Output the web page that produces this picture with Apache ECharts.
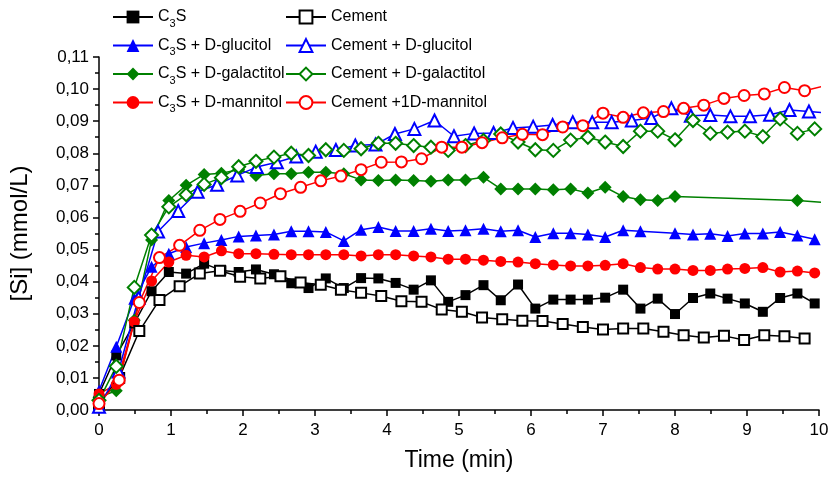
<!DOCTYPE html>
<html>
<head>
<meta charset="utf-8">
<script src="https://cdn.jsdelivr.net/npm/echarts@6/dist/echarts.min.js"></script>
<style>html,body{margin:0;padding:0;background:#fff}</style>
</head>
<body>
<div id="chart" style="width:831px;height:477px;"></div>
<script>
  // sampling times (min)
  var tC3S = [0, 0.24, 0.49, 0.73, 0.97, 1.21, 1.46, 1.70, 1.94, 2.18, 2.43, 2.67, 2.91, 3.15, 3.40, 3.64, 3.88, 4.12, 4.37, 4.61,
    4.85, 5.09, 5.34, 5.58, 5.82, 6.06, 6.31, 6.55, 6.79, 7.03, 7.28, 7.52, 7.76, 8.00, 8.25, 8.49, 8.73, 8.97, 9.22, 9.46, 9.70, 9.94, 10.19];
  var tCement = [0, 0.28, 0.56, 0.84, 1.12, 1.40, 1.68, 1.96, 2.24, 2.52, 2.80, 3.08, 3.36, 3.64, 3.92, 4.20, 4.48, 4.76, 5.04, 5.32,
    5.60, 5.88, 6.16, 6.44, 6.72, 7.00, 7.28, 7.56, 7.84, 8.12, 8.40, 8.68, 8.96, 9.24, 9.52, 9.80, 10.08];
  var tCemGlucitol = [0, 0.27, 0.55, 0.82, 1.10, 1.37, 1.64, 1.92, 2.19, 2.47, 2.74, 3.01, 3.29, 3.56, 3.84, 4.11, 4.38, 4.66, 4.93, 5.21,
    5.48, 5.75, 6.03, 6.30, 6.58, 6.85, 7.12, 7.40, 7.67, 7.95, 8.22, 8.49, 8.77, 9.04, 9.32, 9.59, 9.86, 10.14];

  // [Si] (mmol/L)
  var c3s = [0.005, 0.017, 0.027, 0.037, 0.043, 0.0425, 0.0456, 0.0435, 0.043, 0.0438,
    0.0423, 0.0395, 0.038, 0.041, 0.038, 0.0411, 0.041, 0.0396, 0.0375, 0.0404,
    0.0337, 0.0358, 0.0389, 0.0342, 0.0391, 0.0316, 0.0344, 0.0344, 0.0344, 0.035,
    0.0375, 0.0316, 0.0347, 0.0299, 0.0349, 0.0363, 0.0347, 0.0332, 0.0306, 0.0349,
    0.0363, 0.0332];
  var cement = [0.002, 0.010, 0.0246, 0.0343, 0.0386, 0.0425, 0.0434, 0.0415, 0.041, 0.0417,
    0.0397, 0.039, 0.0375, 0.0365, 0.0355, 0.0339, 0.0337, 0.0313, 0.0306, 0.0288,
    0.0283, 0.0278, 0.0277, 0.0268, 0.0259, 0.0251, 0.0254, 0.0254, 0.0244, 0.0233,
    0.0226, 0.0231, 0.0218, 0.0233, 0.023, 0.0223];
  var c3sGlucitol = [0.006, 0.0197, 0.0347, 0.0446, 0.0487, 0.0508, 0.052, 0.053, 0.0541, 0.0544,
    0.0547, 0.0557, 0.0557, 0.0555, 0.0527, 0.0562, 0.057, 0.0558, 0.0558, 0.0565,
    0.0558, 0.056, 0.0565, 0.0557, 0.056, 0.0539, 0.0551, 0.0551, 0.0547, 0.0539,
    0.056, 0.0557, null, 0.0551, 0.0547, 0.0549, 0.0542, 0.055, 0.055, 0.0555,
    0.0544, 0.0532];
  var cemGlucitol = [0.001, 0.012, 0.035, 0.0556, 0.062, 0.068, 0.0702, 0.0731, 0.0757, 0.0772,
    0.079, 0.0805, 0.081, 0.0824, 0.0827, 0.086, 0.0876, 0.0902, 0.0853, 0.0862,
    0.0863, 0.0879, 0.0883, 0.0888, 0.0897, 0.0897, 0.0897, 0.0902, 0.091, 0.094,
    0.0917, 0.0919, 0.0915, 0.0915, 0.092, 0.0935, 0.093, 0.0925];
  var c3sGalactitol = [0.004, 0.006, 0.028, 0.053, 0.0653, 0.070, 0.0734, 0.0738, 0.0749, 0.0731,
    0.0736, 0.0736, 0.0741, 0.0741, 0.0736, 0.0717, 0.0715, 0.0717, 0.0715, 0.0713,
    0.0717, 0.0717, 0.0725, 0.0689, 0.0689, 0.0689, 0.0686, 0.0689, 0.0676, 0.0694,
    0.0665, 0.0655, 0.0653, 0.0665, null, null, null, null, null, null,
    0.0653, null, 0.0645];
  var cemGalactitol = [0.003, 0.0136, 0.0382, 0.0545, 0.0633, 0.0671, 0.0703, 0.0724, 0.0758, 0.0775,
    0.0788, 0.080, 0.0793, 0.0811, 0.0809, 0.0814, 0.0831, 0.0831, 0.0824, 0.0819,
    0.0809, 0.0824, 0.084, 0.086, 0.0835, 0.0811, 0.0809, 0.0841, 0.085, 0.0835,
    0.0821, 0.0869, 0.0869, 0.0842, 0.0902, 0.0862, 0.0866, 0.0869, 0.0852, 0.0907,
    0.0862, 0.0876];
  var c3sMannitol = [0.005, 0.008, 0.0275, 0.0402, 0.0461, 0.0482, 0.0477, 0.0496, 0.0487, 0.0487,
    0.0485, 0.0484, 0.0484, 0.0484, 0.0484, 0.048, 0.0484, 0.0484, 0.048, 0.0477,
    0.047, 0.047, 0.0467, 0.0463, 0.0461, 0.0456, 0.0452, 0.0449, 0.0449, 0.0451,
    0.0456, 0.0444, 0.0439, 0.0439, 0.0435, 0.0435, 0.0439, 0.0441, 0.0444, 0.043,
    0.0433, 0.0427];
  var cemMannitol = [0.002, 0.0093, 0.0335, 0.0475, 0.0513, 0.056, 0.0594, 0.0619, 0.0645, 0.0674,
    0.0694, 0.0714, 0.0729, 0.0749, 0.0772, 0.0773, 0.0783, 0.0819, 0.0819, 0.0833,
    0.0848, 0.0859, 0.0858, 0.0882, 0.0886, 0.0925, 0.0912, 0.0926, 0.093, 0.094,
    0.095, 0.0971, 0.098, 0.0985, 0.1005, 0.0995, 0.101];

  var namesC3S = ['C3S', 'C3S + D-glucitol', 'C3S + D-galactitol', 'C3S + D-mannitol'];
  var namesCement = ['Cement', 'Cement + D-glucitol', 'Cement + D-galactitol', 'Cement +1D-mannitol'];

  var FONT = '"Liberation Sans", Arial, sans-serif';

  function mk(name, times, values, symbol, color, size) {
    return {
      name: name,
      type: 'line',
      symbol: symbol,
      symbolSize: size,
      connectNulls: true,
      data: values.map(function (v, i) { return [times[i], v]; }),
      lineStyle: { color: color, width: 1.5 },
      itemStyle: { color: color, borderWidth: 1 },
      emphasis: { disabled: true }
    };
  }

  function legendOf(names, left) {
    return {
      orient: 'vertical',
      left: left,
      top: 5,
      padding: 0,
      itemWidth: 40,
      itemHeight: 16,
      itemGap: 4.5,
      data: names,
      formatter: function (n) { return n.replace('C3S', 'C{sub|3}S'); },
      textStyle: {
        fontFamily: FONT, fontSize: 16, color: '#000', lineHeight: 24,
        rich: { sub: { fontFamily: FONT, fontSize: 11, lineHeight: 10, verticalAlign: 'bottom', color: '#000' } }
      }
    };
  }

  var chart = echarts.init(document.getElementById('chart'));

  var option = {
    animation: false,
    backgroundColor: '#fff',
    textStyle: { fontFamily: FONT },
    legend: [legendOf(namesC3S, 112), legendOf(namesCement, 285)],
    grid: { left: 99, top: 57, width: 720, height: 353, containLabel: false, outerBoundsMode: 'none' },
    xAxis: {
      type: 'value', min: 0, max: 10, interval: 1,
      name: 'Time (min)', nameLocation: 'middle', nameGap: 39,
      nameTextStyle: { fontFamily: FONT, fontSize: 23, color: '#000' },
      axisLine: { onZero: false, lineStyle: { color: '#000', width: 1.5 } },
      axisTick: { length: 6, lineStyle: { color: '#000', width: 1.5 } },
      minorTick: { show: true, splitNumber: 2, length: 4, lineStyle: { color: '#000', width: 1.5 } },
      axisLabel: { fontFamily: FONT, fontSize: 17, color: '#000', margin: 12 },
      splitLine: { show: false }
    },
    yAxis: {
      type: 'value', min: 0, max: 0.11, interval: 0.01,
      name: '[Si] (mmol/L)', nameLocation: 'middle', nameGap: 67,
      nameTextStyle: { fontFamily: FONT, fontSize: 24, color: '#000' },
      axisLine: { onZero: false, lineStyle: { color: '#000', width: 1.5 } },
      axisTick: { length: 6, lineStyle: { color: '#000', width: 1.5 } },
      minorTick: { show: true, splitNumber: 2, length: 4, lineStyle: { color: '#000', width: 1.5 } },
      axisLabel: {
        fontFamily: FONT, fontSize: 17, color: '#000', margin: 10,
        formatter: function (v) { return v.toFixed(2).replace('.', ','); }
      },
      splitLine: { show: false }
    },
    series: [
      mk('C3S', tC3S, c3s, 'rect', '#000000', 10),
      mk('C3S + D-glucitol', tC3S, c3sGlucitol, 'triangle', '#0000ff', 12),
      mk('C3S + D-galactitol', tC3S, c3sGalactitol, 'diamond', '#008000', 13),
      mk('C3S + D-mannitol', tC3S, c3sMannitol, 'circle', '#ff0000', 11),
      mk('Cement', tCement, cement, 'emptyRect', '#000000', 10),
      mk('Cement + D-glucitol', tCemGlucitol, cemGlucitol, 'emptyTriangle', '#0000ff', 12),
      mk('Cement + D-galactitol', tC3S, cemGalactitol, 'emptyDiamond', '#008000', 13),
      mk('Cement +1D-mannitol', tCement, cemMannitol, 'emptyCircle', '#ff0000', 11)
    ]
  };

  chart.setOption(option);
</script>
</body>
</html>
